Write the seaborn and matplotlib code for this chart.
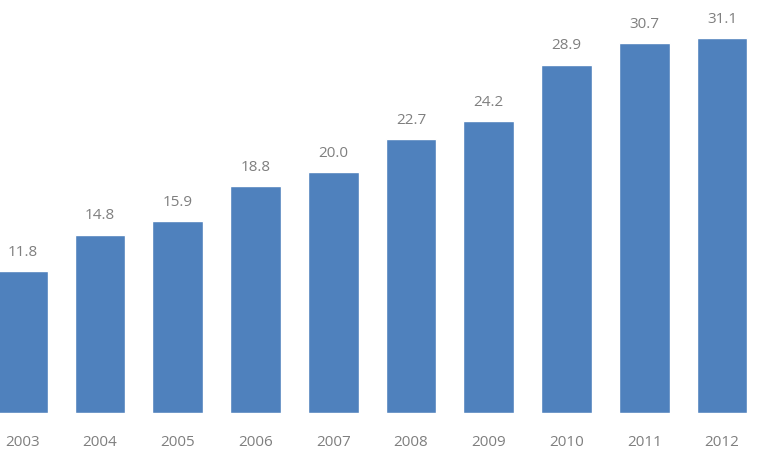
import pandas as pd
import seaborn as sns
import matplotlib.pyplot as plt

# dados
anos = ['2003', '2004', '2005', '2006', '2007', '2008', '2009', '2010', '2011', '2012']
valores = [11.8, 14.8, 15.9, 18.8, 20.0, 22.7, 24.2, 28.9, 30.7, 31.1]

df = pd.DataFrame({'Ano': anos, 'Valor': valores})

sns.set_style('white')
plt.rcParams['font.family'] = ['Open Sans', 'DejaVu Sans']

fig = plt.figure(figsize=(7.59, 4.59), dpi=100)
ax = fig.add_axes([0, 46 / 459, 1, 1 - 46 / 459])

sns.barplot(x='Ano', y='Valor', data=df, color='#4F81BD', saturation=1, width=0.65, ax=ax)

# rótulos acima das barras
for i, v in enumerate(valores):
    ax.annotate('{:.1f}'.format(v), (i, v), xytext=(0, 8), textcoords='offset points',
                ha='center', va='bottom', fontsize=11, color='#7F7F7F')

ax.set_xlim(-0.286, 9.476)
ax.set_ylim(0, 34.25)
ax.set_xlabel('')
ax.set_ylabel('')
ax.set_yticks([])
ax.tick_params(axis='x', length=0, pad=16, labelsize=11, labelcolor='#7F7F7F')
sns.despine(ax=ax, left=True, bottom=True)

plt.savefig('out.png', dpi=100)
